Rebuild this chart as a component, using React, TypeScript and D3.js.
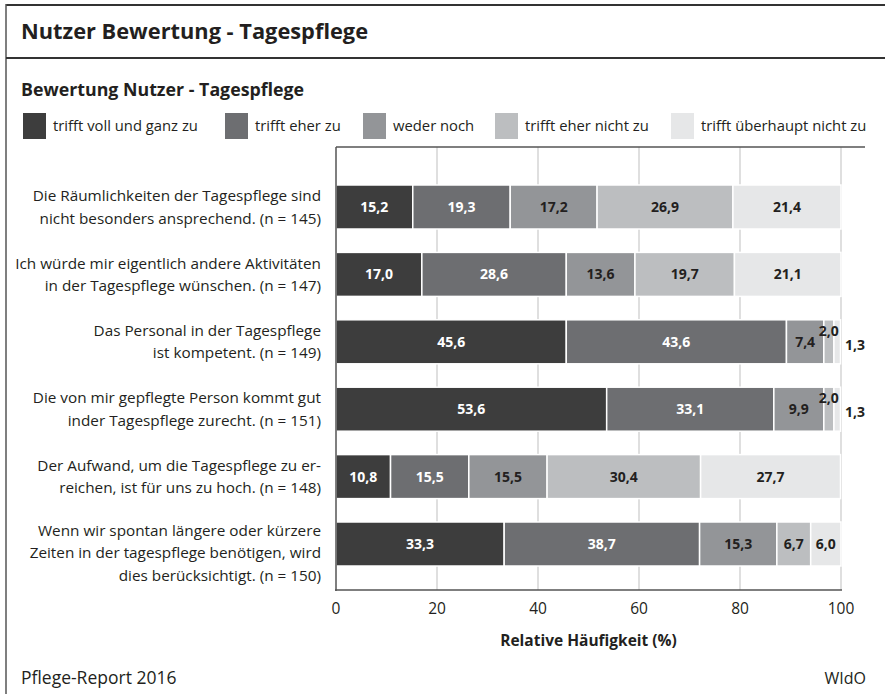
import React from "react";
import * as d3 from "d3";

// Kategorien (Aussagen), mehrzeilig wie im Original
const categories = [
  ["Die Räumlichkeiten der Tagespflege sind", "nicht besonders ansprechend. (n = 145)"],
  ["Ich würde mir eigentlich andere Aktivitäten", "in der Tagespflege wünschen. (n = 147)"],
  ["Das Personal in der Tagespflege", "ist kompetent. (n = 149)"],
  ["Die von mir gepflegte Person kommt gut", "inder Tagespflege zurecht. (n = 151)"],
  ["Der Aufwand, um die Tagespflege zu er-", "reichen, ist für uns zu hoch. (n = 148)"],
  ["Wenn wir spontan längere oder kürzere", "Zeiten in der tagespflege benötigen, wird", "dies berücksichtigt. (n = 150)"],
];

const seriesNames = [
  "trifft voll und ganz zu",
  "trifft eher zu",
  "weder noch",
  "trifft eher nicht zu",
  "trifft überhaupt nicht zu",
];

// Werte je Antwortkategorie, in Reihenfolge der Aussagen
const vollUndGanz = [15.2, 17.0, 45.6, 53.6, 10.8, 33.3];
const eherZu = [19.3, 28.6, 43.6, 33.1, 15.5, 38.7];
const wederNoch = [17.2, 13.6, 7.4, 9.9, 15.5, 15.3];
const eherNicht = [26.9, 19.7, 2.0, 2.0, 30.4, 6.7];
const ueberhauptNicht = [21.4, 21.1, 1.3, 1.3, 27.7, 6.0];

const xTicks = [0, 20, 40, 60, 80, 100];

const colors = ["#3d3d3d", "#6d6e71", "#939598", "#bcbec0", "#e6e7e8"];
const labelColors = ["#ffffff", "#ffffff", "#231f20", "#231f20", "#231f20"];

const FONT = "'Open Sans', Roboto, sans-serif";
const W = 885;
const H = 694;

export default function App() {
  const series = [vollUndGanz, eherZu, wederNoch, eherNicht, ueberhauptNicht];
  const keys = categories.map((c, i) => String(i));

  const x = d3.scaleLinear().domain([0, 100]).range([336, 841]);
  // Balken 44px hoch, erster ab y=185, letzter endet bei y=566
  const y = d3
    .scaleBand<string>()
    .domain(keys)
    .range([173.3, 577.7])
    .paddingInner(0.347)
    .paddingOuter(0.1735);

  // gestapelte Daten
  const rows = categories.map((_, i) => {
    const obj: Record<string, number> = {};
    series.forEach((s, k) => (obj[k] = s[i]));
    return obj;
  });
  const stack = d3.stack<Record<string, number>>().keys(series.map((_, k) => String(k)));
  const stacked = stack(rows);

  const fmt = (v: number) => v.toFixed(1).replace(".", ",");

  const legendX = [23, 225, 363, 495, 671];

  return (
    <svg width={W} height={H} style={{ position: "absolute", left: 0, top: 0, background: "#fff" }} fontFamily={FONT}>
      {/* Rahmen */}
      <line x1={6} x2={W} y1={5} y2={5} stroke="#333" strokeWidth={2} />
      <line x1={6} x2={6} y1={4} y2={H} stroke="#555" strokeWidth={1.5} />
      <line x1={6} x2={W} y1={58} y2={58} stroke="#333" strokeWidth={2} />

      <text x={21} y={39} fontSize={21.8} fontWeight={700} fill="#231f20">
        Nutzer Bewertung - Tagespflege
      </text>
      <text x={21} y={96} fontSize={17.8} fontWeight={700} fill="#231f20">
        Bewertung Nutzer - Tagespflege
      </text>

      {/* Legende */}
      {seriesNames.map((n, k) => (
        <g key={n}>
          <rect x={legendX[k]} y={113} width={23} height={26} fill={colors[k]} />
          <text x={legendX[k] + 30} y={126} dy="0.35em" fontSize={14.8} fill="#231f20">
            {n}
          </text>
        </g>
      ))}

      {/* Gitterlinien */}
      {xTicks.slice(1).map((t) => (
        <line key={t} x1={x(t)} x2={x(t)} y1={147} y2={590} stroke="#d4d4d4" strokeWidth={1.5} />
      ))}

      {/* Balken */}
      {stacked.map((layer, k) =>
        layer.map((d, i) => (
          <rect
            key={k + "-" + i}
            x={x(d[0])}
            width={x(d[1]) - x(d[0])}
            y={y(String(i))}
            height={y.bandwidth()}
            fill={colors[k]}
            stroke="#fff"
            strokeWidth={1.5}
          />
        ))
      )}

      {/* Werte */}
      {stacked.map((layer, k) =>
        layer.map((d, i) => {
          const v = series[k][i];
          const cy = (y(String(i)) as number) + y.bandwidth() / 2;
          const isLast = k === series.length - 1;
          let tx = (x(d[0]) + x(d[1])) / 2;
          let ty = cy;
          let anchor = "middle";
          let fill = labelColors[k];
          if (v < 3) {
            fill = "#231f20";
            if (isLast) {
              tx = x(100) + 4;
              ty = cy + 3;
              anchor = "start";
            } else {
              ty = cy - 11;
            }
          }
          return (
            <text
              key={"l" + k + "-" + i}
              x={tx}
              y={ty}
              dy="0.35em"
              textAnchor={anchor}
              fontSize={14}
              fontWeight={700}
              fill={fill}
            >
              {fmt(v)}
            </text>
          );
        })
      )}

      {/* Achsen */}
      <line x1={336} x2={865} y1={147} y2={147} stroke="#555" strokeWidth={1.5} />
      <line x1={336} x2={336} y1={147} y2={591} stroke="#555" strokeWidth={1.5} />
      <line x1={335} x2={x(100) + 1} y1={590} y2={590} stroke="#555" strokeWidth={1.5} />

      {xTicks.map((t) => (
        <text key={"t" + t} x={x(t)} y={609} dy="0.35em" textAnchor="middle" fontSize={15.5} fill="#231f20">
          {t}
        </text>
      ))}
      <text x={(x(0) + x(100)) / 2} y={641} dy="0.35em" textAnchor="middle" fontSize={15.5} fontWeight={700} fill="#231f20">
        Relative Häufigkeit (%)
      </text>

      {/* Kategorien */}
      {categories.map((lines, i) => {
        const cy = (y(String(i)) as number) + y.bandwidth() / 2;
        const lh = 22.5;
        const shift = lines.length > 2 ? 9 : 0;
        return (
          <text key={"c" + i} textAnchor="end" fontSize={15.3} fill="#231f20">
            {lines.map((ln, j) => (
              <tspan key={j} x={321} y={cy + shift + (j - (lines.length - 1) / 2) * lh} dy="0.35em">
                {ln}
              </tspan>
            ))}
          </text>
        );
      })}

      <text x={21} y={678} dy="0.35em" fontSize={17.5} fill="#231f20">
        Pflege-Report 2016
      </text>
      <text x={866} y={678} dy="0.35em" textAnchor="end" fontSize={16} fill="#231f20">
        WIdO
      </text>
    </svg>
  );
}
